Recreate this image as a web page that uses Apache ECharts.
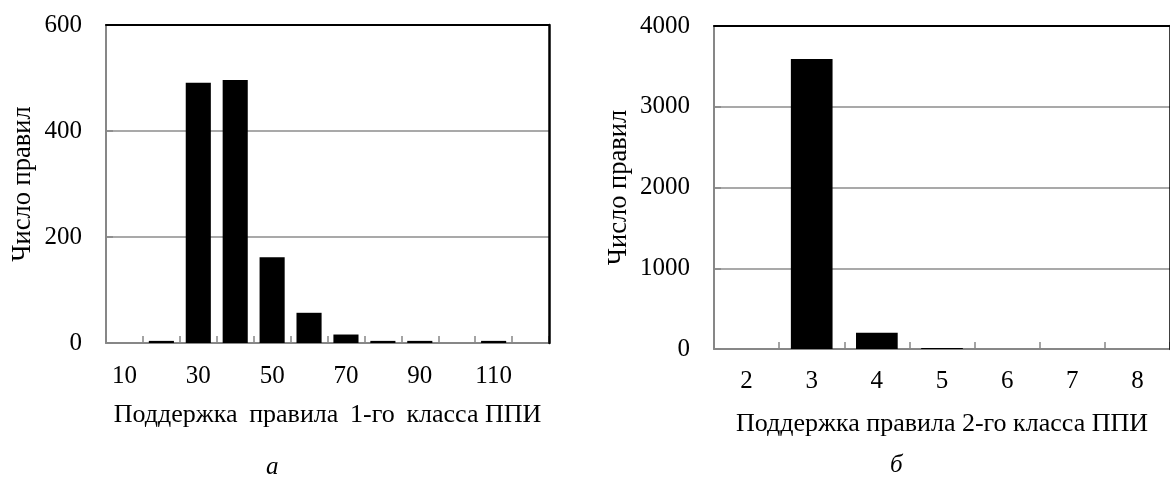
<!DOCTYPE html>
<html>
<head>
<meta charset="utf-8">
<script src="https://cdn.jsdelivr.net/npm/echarts@6/dist/echarts.min.js"></script>
<style>
html,body{margin:0;padding:0;background:#fff;}
#chart{width:1170px;height:478px;}
</style>
</head>
<body>
<div id="chart"></div>
<script>
// Chart a: support of class-1 rules
const catsA = ['10','20','30','40','50','60','70','80','90','100','110','120'];
const valsA = [0, 4, 491, 496, 162, 57, 16, 4, 4, 0, 4, 0];
const ticksA = [0, 200, 400, 600];
// Chart b: support of class-2 rules
const catsB = ['2','3','4','5','6','7','8'];
const valsB = [0, 3590, 202, 12, 0, 0, 0];
const ticksB = [0, 1000, 2000, 3000, 4000];

const yTitle = 'Число правил';
const xTitleA = 'Поддержка \u2009правила \u20091-го \u2009класса ППИ';
const xTitleB = 'Поддержка правила 2-го класса ППИ';
const subA = 'а';
const subB = 'б';

const FONT = '"Liberation Serif", "Times New Roman", serif';
const GRAY = '#878787';
const GRID_GRAY = '#8c8c8c';

function mkX(idx, cats, name, gap, margin) {
  return {
    type: 'category', gridIndex: idx, data: cats, boundaryGap: true,
    name: name, nameLocation: 'middle', nameGap: gap,
    nameTextStyle: {fontFamily: FONT, fontSize: 26, color: '#000', lineHeight: 26},
    axisLine: {show: true, lineStyle: {color: GRAY, width: 2}},
    axisTick: {show: true, inside: true, length: 7, alignWithLabel: false, interval: 0, lineStyle: {color: GRAY, width: 1.5}},
    axisLabel: {fontFamily: FONT, fontSize: 25, color: '#000', margin: margin, interval: idx === 0 ? 1 : 0},
    splitLine: {show: false}
  };
}
function mkXTop(idx, cats) {
  return {
    type: 'category', gridIndex: idx, data: cats, position: 'top', z: 5,
    axisLine: {show: true, onZero: false, lineStyle: {color: '#000', width: 2}},
    axisTick: {show: false}, axisLabel: {show: false}, splitLine: {show: false}
  };
}
function mkY(idx, ticks, gap) {
  const mx = ticks[ticks.length - 1];
  return {
    type: 'value', gridIndex: idx, min: 0, max: mx, interval: ticks[1] - ticks[0],
    name: yTitle, nameLocation: 'middle', nameGap: gap, nameRotate: 90,
    nameTextStyle: {fontFamily: FONT, fontSize: 26.5, color: '#000', lineHeight: 26},
    axisLine: {show: true, lineStyle: {color: GRAY, width: 2}},
    axisTick: {show: true, inside: true, length: 7, lineStyle: {color: GRAY, width: 1.5}},
    axisLabel: {fontFamily: FONT, fontSize: 25, color: '#000', margin: 24, formatter: v => String(v)},
    splitLine: {show: true, lineStyle: {color: GRID_GRAY, width: 1.5}}
  };
}
function mkYRight(idx, ticks) {
  return {
    type: 'value', gridIndex: idx, min: 0, max: ticks[ticks.length - 1], position: 'right', z: 5,
    axisLine: {show: true, onZero: false, lineStyle: {color: '#000', width: 2.5}},
    axisTick: {show: false}, axisLabel: {show: false}, splitLine: {show: false}
  };
}

const chart = echarts.init(document.getElementById('chart'), null, {renderer: 'canvas'});
chart.setOption({
  backgroundColor: '#fff',
  animation: false,
  grid: [
    {left: 106, top: 25, width: 443, height: 318, containLabel: false},
    {left: 714, top: 26, width: 462, height: 323, containLabel: false}
  ],
  xAxis: [mkX(0, catsA, xTitleA, 59, 21), mkX(1, catsB, xTitleB, 62, 20), mkXTop(0, catsA), mkXTop(1, catsB)],
  yAxis: [mkY(0, ticksA, 70), mkY(1, ticksB, 82), mkYRight(0, ticksA), mkYRight(1, ticksB)],
  series: [
    {type: 'bar', xAxisIndex: 0, yAxisIndex: 0, data: valsA, barCategoryGap: '32%', itemStyle: {color: '#000'}},
    {type: 'bar', xAxisIndex: 1, yAxisIndex: 1, data: valsB, barCategoryGap: '36%', itemStyle: {color: '#000'}}
  ],
  graphic: [
    {type: 'text', left: 266, top: 455, style: {text: subA, font: 'italic 25px ' + FONT, fill: '#000'}},
    {type: 'text', left: 890, top: 453, style: {text: subB, font: 'italic 25px ' + FONT, fill: '#000'}}
  ]
});
</script>
</body>
</html>
